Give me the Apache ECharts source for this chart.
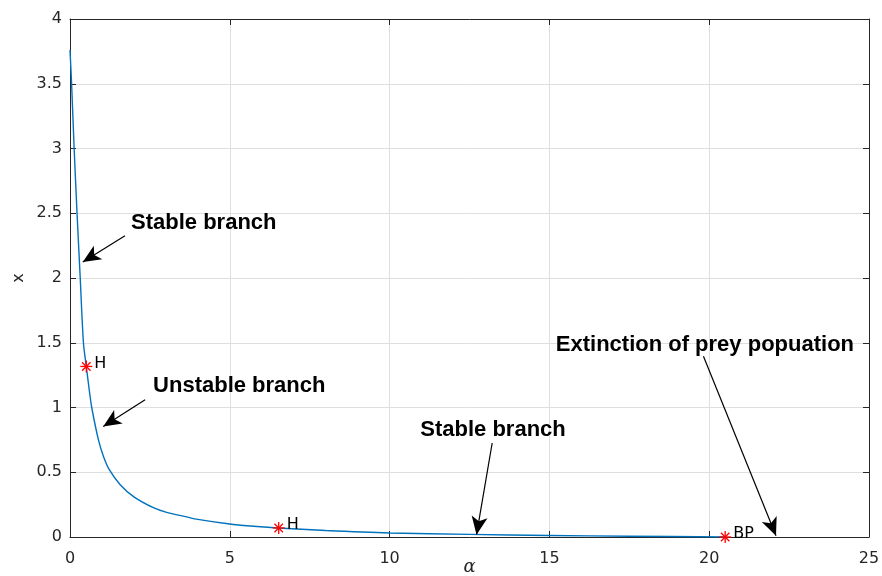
<!DOCTYPE html>
<html>
<head>
<meta charset="utf-8">
<script src="https://cdn.jsdelivr.net/npm/echarts@6/dist/echarts.min.js"></script>
<style>html,body{margin:0;padding:0;background:#fff}#c{width:882px;height:576px}</style>
</head>
<body>
<div id="c"></div>
<script>
// Bifurcation branch: alpha vs x
const alphaVals = [0, 0.05, 0.13, 0.22, 0.32, 0.42, 0.51, 0.60, 0.68, 0.89, 1.05, 1.23, 1.57, 2.0, 2.61, 3.0, 3.65, 4.0, 5.0, 5.64, 6.5, 8.0, 10, 12.5, 15, 17.5, 20.5];
const xVals     = [3.76, 3.5, 3.0, 2.5, 2.0, 1.5, 1.317, 1.14, 1.0, 0.75, 0.62, 0.52, 0.404, 0.31, 0.226, 0.192, 0.155, 0.136, 0.10, 0.085, 0.07, 0.05, 0.031, 0.02, 0.012, 0.006, 0.0];

// Special points (Hopf, Branch point)
const specialAlpha = [0.51, 6.53, 20.5];
const specialX     = [1.317, 0.07, 0.0];
const specialLabel = ['H', 'H', 'BP'];

// Annotation texts: anchor at left-middle of text
const noteText  = ['Stable branch', 'Unstable branch', 'Stable branch', 'Extinction of prey popuation'];
const noteAlpha = [1.91, 2.60, 10.96, 15.2];
const noteX     = [2.427, 1.163, 0.829, 1.486];

// Arrows: tail -> head
const arrowFromA = [1.72, 2.35, 13.21, 19.82];
const arrowFromX = [2.327, 1.06, 0.726, 1.395];
const arrowToA   = [0.40, 1.04, 12.72, 22.09];
const arrowToX   = [2.123, 0.854, 0.018, 0.01];

const xTicksMin = 0, xTicksMax = 25, xTickStep = 5;
const yTicksMin = 0, yTicksMax = 4, yTickStep = 0.5;

const TICKFONT = 'DejaVu Sans';
const NOTEFONT = 'Liberation Sans';
const AX = '#262626';

const chart = echarts.init(document.getElementById('c'), null, {renderer: 'canvas'});

const curve = alphaVals.map((a, i) => [a, xVals[i]]);
const specials = specialAlpha.map((a, i) => [a, specialX[i], specialLabel[i]]);
const notes = noteAlpha.map((a, i) => [a, noteX[i], noteText[i]]);
const arrows = arrowFromA.map((a, i) => [{coord: [a, arrowFromX[i]]}, {coord: [arrowToA[i], arrowToX[i]]}]);

const axisCommon = {
  type: 'value',
  axisLine: {show: true, onZero: false, lineStyle: {color: AX, width: 1}},
  axisTick: {show: true, inside: true, length: 6, lineStyle: {color: AX}},
  axisLabel: {color: AX, fontFamily: TICKFONT, fontSize: 16},
};

const option = {
  animation: false,
  backgroundColor: '#fff',
  grid: {left: 70, right: 13, top: 19, bottom: 39, containLabel: false, outerBoundsMode: 'none'},
  xAxis: [
    Object.assign({}, axisCommon, {
      min: xTicksMin, max: xTicksMax, interval: xTickStep, position: 'bottom',
      name: 'α', nameLocation: 'middle', nameGap: 21, nameMoveOverlap: false,
      nameTextStyle: {fontFamily: 'DejaVu Serif', fontSize: 18, fontStyle: 'italic', color: AX},
      axisLabel: {color: AX, fontFamily: TICKFONT, fontSize: 16, margin: 14},
      splitLine: {show: true, lineStyle: {color: '#dfdfdf', width: 1}}
    }),
    Object.assign({}, axisCommon, {
      min: xTicksMin, max: xTicksMax, interval: xTickStep, position: 'top',
      axisLabel: {show: false}, splitLine: {show: false}
    })
  ],
  yAxis: [
    Object.assign({}, axisCommon, {
      min: yTicksMin, max: yTicksMax, interval: yTickStep, position: 'left',
      name: 'x', nameLocation: 'middle', nameGap: 43, nameRotate: 90, nameMoveOverlap: false,
      nameTextStyle: {fontFamily: TICKFONT, fontSize: 16, color: AX},
      axisLabel: {color: AX, fontFamily: TICKFONT, fontSize: 16, margin: 8},
      splitLine: {show: true, lineStyle: {color: '#dfdfdf', width: 1}}
    }),
    Object.assign({}, axisCommon, {
      min: yTicksMin, max: yTicksMax, interval: yTickStep, position: 'right',
      axisLabel: {show: false}, splitLine: {show: false}
    })
  ],
  series: [
    {
      type: 'line',
      data: curve,
      showSymbol: false,
      smooth: 0.3,
      lineStyle: {color: '#0072BD', width: 1.4},
      z: 3,
      markLine: {
        silent: true,
        symbol: ['none', 'arrow'],
        symbolSize: [12, 18],
        lineStyle: {color: '#000', width: 1.2, type: 'solid'},
        itemStyle: {color: '#000'},
        label: {show: false},
        emphasis: {disabled: true},
        data: arrows,
        z: 5
      }
    },
    {
      type: 'custom',
      data: specials,
      z: 6,
      silent: true,
      renderItem: function (params, api) {
        const p = api.coord([api.value(0), api.value(1)]);
        const r = 6, d = r * 0.7071;
        const st = {stroke: '#ff0000', lineWidth: 1.3};
        return {
          type: 'group',
          children: [
            {type: 'line', shape: {x1: p[0] - r, y1: p[1], x2: p[0] + r, y2: p[1]}, style: st},
            {type: 'line', shape: {x1: p[0], y1: p[1] - r, x2: p[0], y2: p[1] + r}, style: st},
            {type: 'line', shape: {x1: p[0] - d, y1: p[1] - d, x2: p[0] + d, y2: p[1] + d}, style: st},
            {type: 'line', shape: {x1: p[0] - d, y1: p[1] + d, x2: p[0] + d, y2: p[1] - d}, style: st},
            {type: 'text', style: {text: api.value(2), x: p[0] + 8, y: p[1] - 3, verticalAlign: 'middle', align: 'left', fontFamily: TICKFONT, fontSize: 16, fill: '#000'}}
          ]
        };
      }
    },
    {
      type: 'custom',
      data: notes,
      z: 7,
      silent: true,
      renderItem: function (params, api) {
        const p = api.coord([api.value(0), api.value(1)]);
        return {
          type: 'text',
          style: {text: notes[params.dataIndex][2], x: p[0], y: p[1], verticalAlign: 'middle', align: 'left',
                  fontFamily: NOTEFONT, fontSize: 22, fontWeight: 'bold', fill: '#000'}
        };
      }
    }
  ]
};
chart.setOption(option);
</script>
</body>
</html>
